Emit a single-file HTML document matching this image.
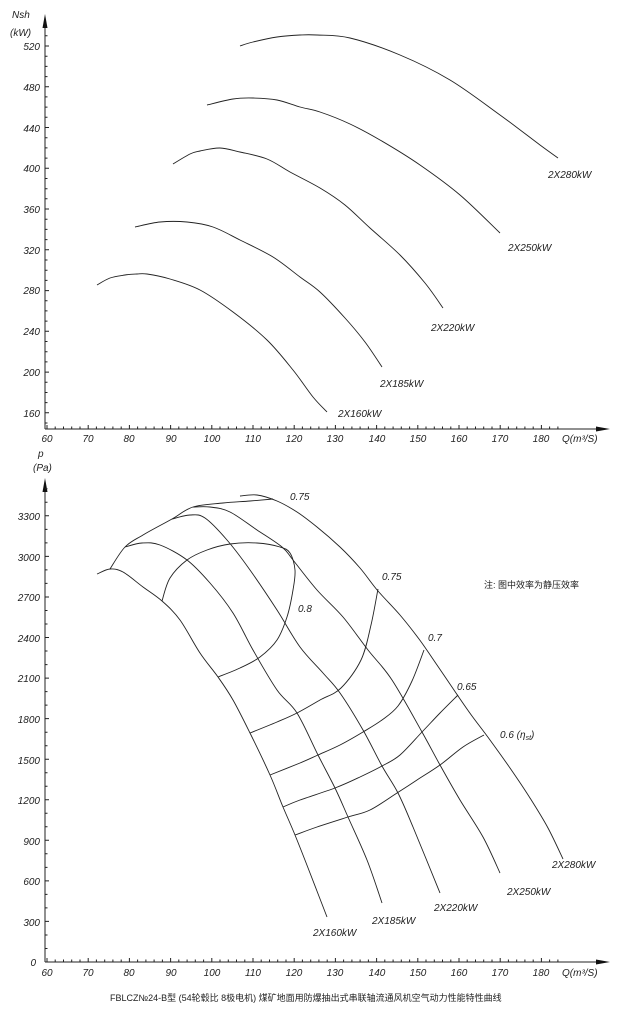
<!DOCTYPE html>
<html><head><meta charset="utf-8"><style>
html,body{margin:0;padding:0;background:#fff;}
svg{display:block;}
text{font-family:"Liberation Sans","Noto Sans CJK SC",sans-serif;font-style:italic;fill:#222;font-size:10px;}
.l{fill:none;stroke:#222;stroke-width:0.9;stroke-linejoin:round;}
.ax{stroke:#222;stroke-width:1;fill:none;}
</style></head><body>
<svg id="s" width="625" height="1020" viewBox="0 0 625 1020" xmlns="http://www.w3.org/2000/svg">
<line class="ax" x1="45" y1="18" x2="45" y2="429"/>
<polygon points="45,14 42.5,28 47.5,28" fill="#111"/>
<line class="ax" x1="45" y1="429" x2="606" y2="429"/>
<polygon points="610,429 596,426.5 596,431.5" fill="#111"/>
<text x="12" y="18">Nsh</text>
<text x="10" y="36">(kW)</text>
<g text-anchor="end">
<text x="40" y="50">520</text><text x="40" y="91">480</text><text x="40" y="132">440</text>
<text x="40" y="172">400</text><text x="40" y="213">360</text><text x="40" y="254">320</text>
<text x="40" y="294">280</text><text x="40" y="335">240</text><text x="40" y="376">200</text>
<text x="40" y="417">160</text>
</g>
<g text-anchor="middle">
<text x="47" y="442">60</text><text x="88" y="442">70</text><text x="129" y="442">80</text>
<text x="171" y="442">90</text><text x="212" y="442">100</text><text x="253" y="442">110</text>
<text x="294" y="442">120</text><text x="335" y="442">130</text><text x="377" y="442">140</text>
<text x="418" y="442">150</text><text x="459" y="442">160</text><text x="500" y="442">170</text>
<text x="541" y="442">180</text>
</g>
<text x="562" y="442">Q(m³/S)</text>

<polyline class="l" points="97,285 110,278 125,275 137,274 147,274 170,279 200,290 233,312 267,340 293,370 313,397 327,412"/>
<polyline class="l" points="135,227 160,222 187,222 213,227 240,240 273,257 300,277 320,292 345,318 365,342 382,367"/>
<polyline class="l" points="173,164 190,154 200,151 220,148 240,152 267,159 290,172 320,188 345,205 370,228 400,255 425,283 443,308"/>
<polyline class="l" points="207,105 233,99 253,98 277,100 300,107 320,112 350,124 380,140 420,165 460,195 500,233"/>
<polyline class="l" points="240,46 253,42 277,37 300,35 317,35 350,38 400,55 450,80 500,115 540,145 558,158"/>
<text x="338" y="417">2X160kW</text>
<text x="380" y="387">2X185kW</text>
<text x="431" y="331">2X220kW</text>
<text x="508" y="251">2X250kW</text>
<text x="548" y="178">2X280kW</text>

<text x="38" y="457">p</text>
<text x="33" y="471">(Pa)</text>
<line class="ax" x1="45" y1="482" x2="45" y2="962"/>
<polygon points="45,478 42.5,492 47.5,492" fill="#111"/>
<line class="ax" x1="45" y1="962" x2="606" y2="962"/>
<polygon points="610,962 596,959.5 596,964.5" fill="#111"/>
<g text-anchor="end">
<text x="40" y="520">3300</text><text x="40" y="561">3000</text><text x="40" y="601">2700</text>
<text x="40" y="642">2400</text><text x="40" y="682">2100</text><text x="40" y="723">1800</text>
<text x="40" y="764">1500</text><text x="40" y="804">1200</text><text x="40" y="845">900</text>
<text x="40" y="885">600</text><text x="40" y="926">300</text><text x="36" y="966">0</text>
</g>
<g text-anchor="middle">
<text x="47" y="976">60</text><text x="88" y="976">70</text><text x="129" y="976">80</text>
<text x="171" y="976">90</text><text x="212" y="976">100</text><text x="253" y="976">110</text>
<text x="294" y="976">120</text><text x="335" y="976">130</text><text x="377" y="976">140</text>
<text x="418" y="976">150</text><text x="459" y="976">160</text><text x="500" y="976">170</text>
<text x="541" y="976">180</text>
</g>
<text x="562" y="976">Q(m³/S)</text>

<polyline class="l" points="97,574 110,569 123,572 143,587 162,601 180,620 200,653 218,677 233,700 250,733 270,775 283,807 295,835 310,873 327,917"/>
<polyline class="l" points="125,547 142,543 160,545 187,560 210,583 233,613 253,650 277,690 297,713 318,755 335,788 348,817 367,860 382,903"/>
<polyline class="l" points="172,519 190,515 205,518 227,540 250,570 277,610 300,647 323,673 340,693 363,730 382,766 398,793 413,827 440,893"/>
<polyline class="l" points="193,507 210,507 230,512 257,530 282,547 293,560 317,590 343,617 368,650 392,680 422,732 440,765 460,800 483,837 500,873"/>
<polyline class="l" points="240,496 257,495 277,501 297,512 317,527 340,547 360,568 378,591 400,615 419,639 437,665 456,693 472,716 490,740 510,768 530,798 548,828 563,859"/>
<polyline class="l" points="110,569 125,547 143,535 172,519 193,507 223,503 250,501 273,499"/>
<polyline class="l" points="162,601 170,578 187,560 207,550 230,544 257,543 280,547 290,553 295,570 293,590 287,617 277,640 260,657 240,668 218,677"/>
<polyline class="l" points="250,733 277,722 297,713 320,700 341,688 361,660 371,625 378,589"/>
<polyline class="l" points="270,775 300,763 318,755 340,745 363,732 382,720 398,706 412,681 424,650"/>
<polyline class="l" points="283,807 300,800 335,788 360,777 382,766 400,755 422,732 440,713 458,695"/>
<polyline class="l" points="295,835 317,827 348,817 370,810 397,793 417,780 440,765 463,747 484,735"/>

<text x="290" y="500">0.75</text>
<text x="382" y="580">0.75</text>
<text x="298" y="612">0.8</text>
<text x="428" y="641">0.7</text>
<text x="457" y="690">0.65</text>
<text x="500" y="738">0.6 (η<tspan font-size="7" dy="2">st</tspan><tspan dy="-2">)</tspan></text>
<text x="484" y="588" style="font-style:normal;font-size:9px">注: 图中效率为静压效率</text>
<text x="313" y="936">2X160kW</text>
<text x="372" y="924">2X185kW</text>
<text x="434" y="911">2X220kW</text>
<text x="507" y="895">2X250kW</text>
<text x="552" y="868">2X280kW</text>
<text x="110" y="1001" style="font-style:normal;font-size:9px">FBLCZ№24-B型 (54轮毂比 8极电机) 煤矿地面用防爆抽出式串联轴流通风机空气动力性能特性曲线</text>
<g id="ticks"></g>
</svg>
<script>
(function(){
 var ns="http://www.w3.org/2000/svg",g=document.getElementById("ticks"),d="";
 for(var q=60;q<=184;q+=2){var x=47+(q-60)*4.12;var h=(q%10==0)?4:2.5;d+="M"+x.toFixed(1)+",429v-"+h+"M"+x.toFixed(1)+",962v-"+h;}
 for(var n=150;n<=530;n+=10){var y=46+(520-n)*1.019;var w=(n%40==0)?4:2.5;d+="M45,"+y.toFixed(1)+"h"+w;}
 for(var p=0;p<=3500;p+=100){var y2=962-p*0.1352;var w2=(p%300==0)?4:2.5;d+="M45,"+y2.toFixed(1)+"h"+w2;}
 var e=document.createElementNS(ns,"path");e.setAttribute("d",d);e.setAttribute("class","ax");e.setAttribute("stroke-width","0.8");g.appendChild(e);
 var pls=document.querySelectorAll("polyline.l");
 for(var i=0;i<pls.length;i++){
  var pl=pls[i],pts=pl.getAttribute("points").trim().split(/\s+/).map(function(s){return s.split(",").map(Number);});
  var s="M"+pts[0][0]+","+pts[0][1];
  for(var k=0;k<pts.length-1;k++){
   var p0=pts[k-1]||pts[k],p1=pts[k],p2=pts[k+1],p3=pts[k+2]||p2;
   var c1x=p1[0]+(p2[0]-p0[0])/6,c1y=p1[1]+(p2[1]-p0[1])/6,c2x=p2[0]-(p3[0]-p1[0])/6,c2y=p2[1]-(p3[1]-p1[1])/6;
   s+="C"+c1x.toFixed(1)+","+c1y.toFixed(1)+" "+c2x.toFixed(1)+","+c2y.toFixed(1)+" "+p2[0]+","+p2[1];
  }
  var pa=document.createElementNS(ns,"path");pa.setAttribute("d",s);pa.setAttribute("class","l");
  pl.parentNode.replaceChild(pa,pl);
 }
})();
</script>
</body></html>
